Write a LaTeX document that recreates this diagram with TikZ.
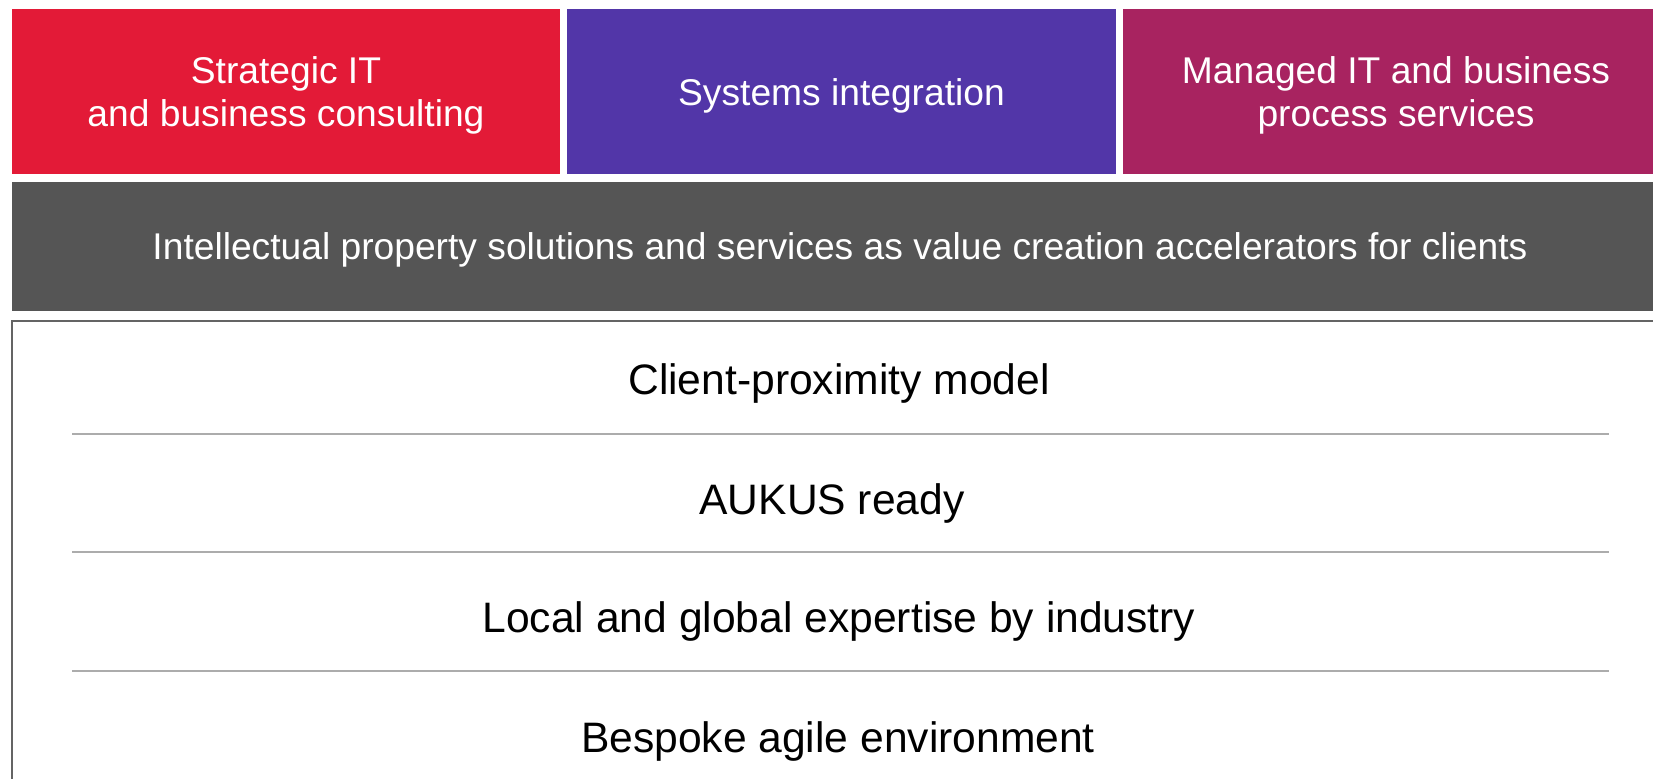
\documentclass[tikz,border=0pt]{standalone}
\usepackage{fontspec}
\setmainfont{Liberation Sans}
\definecolor{cred}{RGB}{227,26,55}
\definecolor{cpurple}{RGB}{82,54,168}
\definecolor{cmag}{RGB}{168,35,96}
\definecolor{cgray}{RGB}{85,85,85}
\definecolor{cline}{RGB}{172,172,172}
\definecolor{cborder}{RGB}{100,100,100}
\tikzset{
  tile/.style={anchor=north west, inner sep=0pt, outer sep=0pt, minimum height=82.75pt},
  toptxt/.style={text=white, align=center, font=\fontsize{18.6pt}{21.5pt}\selectfont, inner sep=0pt},
  lowtxt/.style={text=black, font=\fontsize{21.3pt}{25pt}\selectfont, inner sep=0pt, anchor=base},
  sep/.style={draw=cline, line width=1pt},
}
\begin{document}
\begin{tikzpicture}[x=0.5pt,y=-0.5pt]
\useasboundingbox (0,0) rectangle (1653,779);
% top tiles
\node[tile, fill=cred, minimum width=274pt] (red) at (12,9) {};
\node[tile, fill=cpurple, minimum width=274.5pt] (purple) at (567,9) {};
\node[tile, fill=cmag, minimum width=274pt] (mag) at (1122.5,9) {};
\node[toptxt, anchor=base] (redt) at (286,126.3) {Strategic IT\\and business consulting};
\node[toptxt, anchor=base] (purt) at (841.5,106) {Systems integration};
\node[toptxt, anchor=base] (magt) at (1396,126.3) {Managed IT and business\\process services};
% gray bar
\node[anchor=north west, inner sep=0pt, outer sep=0pt, fill=cgray, minimum width=828pt, minimum height=64.5pt] (bar) at (12,182) {};
\node[toptxt, anchor=base] (bart) at (840,260) {Intellectual property solutions and services as value creation accelerators for clients};
% white box
\node[anchor=north west, inner sep=0pt, outer sep=0pt, draw=cborder, line width=1pt, minimum width=828pt, minimum height=260pt] (box) at (12,321) {};
% separators
\coordinate (s1a) at (72,434.5); \coordinate (s1b) at (1609,434.5);
\coordinate (s2a) at (72,552.5); \coordinate (s2b) at (1609,552.5);
\coordinate (s3a) at (72,670.5); \coordinate (s3b) at (1609,670.5);
\draw[sep] (s1a) -- (s1b);
\draw[sep] (s2a) -- (s2b);
\draw[sep] (s3a) -- (s3b);
% rows
\node[lowtxt] (r1) at (839,395) {Client-proximity model};
\node[lowtxt] (r2) at (832,514.5) {AUKUS ready};
\node[lowtxt] (r3) at (839,632.5) {Local and global expertise by industry};
\node[lowtxt] (r4) at (838,752) {Bespoke agile environment};
\end{tikzpicture}
\end{document}
